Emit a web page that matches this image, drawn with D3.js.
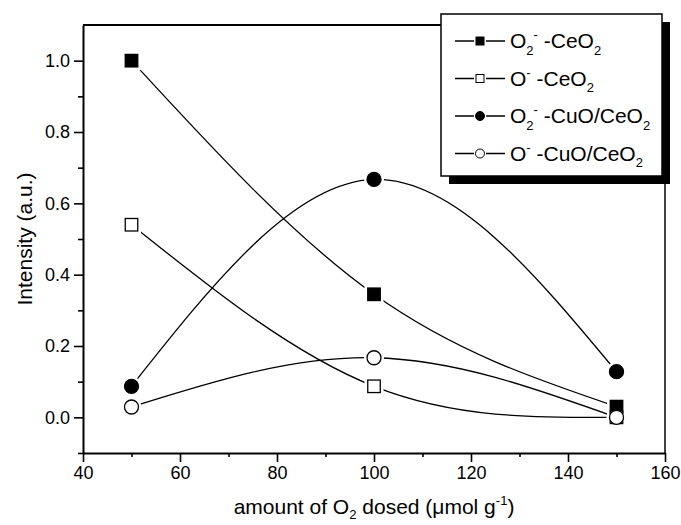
<!DOCTYPE html>
<html>
<head>
<meta charset="utf-8">
<script src="https://cdn.jsdelivr.net/npm/d3@7"></script>
<style>
  body { margin: 0; background: #fff; }
  svg { display: block; font-family: "Liberation Sans", Arial, sans-serif; }
</style>
</head>
<body>
<div id="chart"></div>
<script>
// values
const doses = [50, 100, 150];
const o2CeO2 = [1.0, 0.345, 0.03];
const oCeO2 = [0.54, 0.087, 0.0];
const o2CuO = [0.087, 0.667, 0.128];
const oCuO = [0.029, 0.167, 0.0];

const xTicks = [40, 60, 80, 100, 120, 140, 160];
const xMinor = [50, 70, 90, 110, 130, 150];
const yTicks = [0, 0.2, 0.4, 0.6, 0.8, 1.0];
const yMinor = [-0.1, 0.1, 0.3, 0.5, 0.7, 0.9];

// label pieces: [text, "sub" | "sup" | undefined]
const labels = [
  [["O"], ["2", "sub"], ["-", "sup"], [" -CeO"], ["2", "sub"]],
  [["O"], ["-", "sup"], [" -CeO"], ["2", "sub"]],
  [["O"], ["2", "sub"], ["-", "sup"], [" -CuO/CeO"], ["2", "sub"]],
  [["O"], ["-", "sup"], [" -CuO/CeO"], ["2", "sub"]]
];
const xTitle = [["amount of O"], ["2", "sub"], [" dosed ("], ["\u03bc"], ["mol g"], ["-1", "sup"], [")"]];

const series = [
  { values: o2CeO2, shape: "square", filled: true },
  { values: oCeO2, shape: "square", filled: false },
  { values: o2CuO, shape: "circle", filled: true },
  { values: oCuO, shape: "circle", filled: false }
];

const W = 681, H = 525;
const svg = d3.select("#chart").append("svg").attr("width", W).attr("height", H);

const x = d3.scaleLinear().domain([40, 160]).range([83, 665]);
const y = d3.scaleLinear().domain([-0.1, 1.1]).range([453, 25]);

// rich text with sub/superscripts
function richText(sel, parts, size, subShift = 0.32) {
  let shift = 0;
  parts.forEach(([txt, kind]) => {
    const target = kind === "sub" ? size * subShift : kind === "sup" ? -size * 0.42 : 0;
    sel.append("tspan")
      .attr("dy", target - shift)
      .style("font-size", (kind ? size * 0.62 : size) + "px")
      .text(txt);
    shift = target;
  });
}

// ── axes ────────────────────────────────────────────
svg.append("g").attr("transform", `translate(0,${y.range()[0]})`)
  .call(d3.axisBottom(x).tickValues(xTicks).tickSize(9).tickSizeOuter(0).tickPadding(4).tickFormat(d3.format("d")));
svg.append("g").attr("transform", `translate(0,${y.range()[0]})`)
  .call(d3.axisBottom(x).tickValues(xMinor).tickSize(4).tickSizeOuter(0).tickFormat(""))
  .select(".domain").remove();

svg.append("g").attr("transform", `translate(${x.range()[0]},0)`)
  .call(d3.axisLeft(y).tickValues(yTicks).tickSize(9).tickSizeOuter(0).tickPadding(4).tickFormat(d3.format(".1f")));
svg.append("g").attr("transform", `translate(${x.range()[0]},0)`)
  .call(d3.axisLeft(y).tickValues(yMinor).tickSize(5).tickSizeOuter(0).tickFormat(""))
  .select(".domain").remove();

svg.selectAll(".domain").attr("stroke", "#000").attr("stroke-width", 2);
svg.selectAll(".tick line").attr("stroke", "#000").attr("stroke-width", 1.6);
svg.selectAll(".tick text").attr("fill", "#000").style("font-size", "18px")
  .style("font-family", "'Liberation Sans', Arial, sans-serif");

// top and right frame
svg.append("line")
  .attr("x1", x.range()[0]).attr("x2", x.range()[1])
  .attr("y1", y.range()[1]).attr("y2", y.range()[1])
  .attr("stroke", "#000").attr("stroke-width", 2);
svg.append("line")
  .attr("x1", x.range()[1]).attr("x2", x.range()[1])
  .attr("y1", y.range()[1]).attr("y2", y.range()[0])
  .attr("stroke", "#000").attr("stroke-width", 1.5);

// axis titles
svg.append("text")
  .attr("x", (x.range()[0] + x.range()[1]) / 2).attr("y", 514)
  .attr("text-anchor", "middle").attr("fill", "#000")
  .call(richText, xTitle, 21, 0.24);

svg.append("text")
  .attr("transform", `translate(32,${(y.range()[0] + y.range()[1]) / 2}) rotate(-90)`)
  .attr("text-anchor", "middle").attr("fill", "#000").style("font-size", "21px")
  .text("Intensity (a.u.)");

// ── curves ──────────────────────────────────────────
const line = d3.line().x(d => x(d[0])).y(d => y(d[1])).curve(d3.curveNatural);
const plotG = svg.append("g");
series.forEach(s => {
  plotG.append("path")
    .attr("d", line(doses.map((d, i) => [d, s.values[i]])))
    .attr("fill", "none").attr("stroke", "#000").attr("stroke-width", 1.3);
});

function drawMarker(g, shape, cx, cy, size, fill, stroke, sw) {
  if (shape === "square") {
    g.append("rect")
      .attr("x", cx - size / 2).attr("y", cy - size / 2)
      .attr("width", size).attr("height", size)
      .attr("fill", fill).attr("stroke", stroke).attr("stroke-width", sw);
  } else {
    g.append("circle")
      .attr("cx", cx).attr("cy", cy).attr("r", size / 2)
      .attr("fill", fill).attr("stroke", stroke).attr("stroke-width", sw);
  }
}

// white gap around markers, then markers
series.forEach(s => {
  doses.forEach((d, i) => {
    drawMarker(plotG, s.shape, x(d), y(s.values[i]), s.shape === "square" ? 19 : 20, "#fff", "none", 0);
  });
});
series.forEach(s => {
  doses.forEach((d, i) => {
    drawMarker(plotG, s.shape, x(d), y(s.values[i]), s.shape === "square" ? 12.5 : 14,
      s.filled ? "#000" : "#fff", "#000", 1.3);
  });
});

// ── legend ──────────────────────────────────────────
const lg = svg.append("g");
const box = { x: 441, y: 14, w: 221, h: 162 };
lg.append("rect").attr("x", box.x + 8).attr("y", box.y + 8)
  .attr("width", box.w).attr("height", box.h).attr("fill", "#000");
lg.append("rect").attr("x", box.x).attr("y", box.y)
  .attr("width", box.w).attr("height", box.h)
  .attr("fill", "#fff").attr("stroke", "#000").attr("stroke-width", 1.5);

series.forEach((s, i) => {
  const cy = 41 + i * 37.5;
  lg.append("line").attr("x1", 455).attr("x2", 474).attr("y1", cy).attr("y2", cy)
    .attr("stroke", "#000").attr("stroke-width", 1.5);
  lg.append("line").attr("x1", 486).attr("x2", 505).attr("y1", cy).attr("y2", cy)
    .attr("stroke", "#000").attr("stroke-width", 1.5);
  drawMarker(lg, s.shape, 480, cy, s.shape === "square" ? 8 : 9,
    s.filled ? "#000" : "#fff", "#000", 1);
  lg.append("text").attr("x", 510).attr("y", cy + 7).attr("fill", "#000")
    .call(richText, labels[i], 21);
});
</script>
</body>
</html>
